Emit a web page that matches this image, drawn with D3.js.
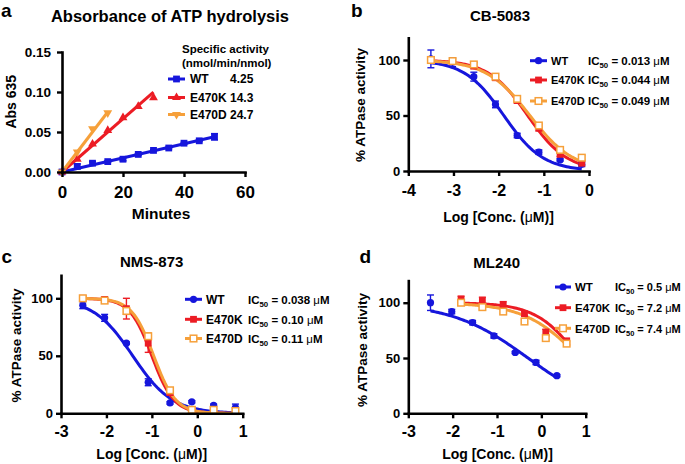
<!DOCTYPE html>
<html>
<head>
<meta charset="utf-8">
<script src="https://cdn.jsdelivr.net/npm/d3@7"></script>
<style>body{margin:0;background:#fff}</style>
</head>
<body>
<div id="chart"></div>
<script>
const FONT = "'Liberation Sans', Arial, Helvetica, sans-serif";
const seriesNames = ["WT", "E470K", "E470D"];
const seriesColors = ["#1616dc", "#ec1c24", "#f6a03a"];

// panel a - absorbance vs minutes
const aWtMin = [0, 5, 10, 15, 20, 25, 30, 35, 40, 45, 50];
const aWtAbs = [0.000, 0.007, 0.011, 0.013, 0.016, 0.022, 0.027, 0.030, 0.036, 0.039, 0.044];
const aWtErr = [0, 0.003, 0.002, 0.001, 0.002, 0.001, 0.001, 0.001, 0.001, 0.001, 0.004];
const aKMin = [0, 5, 10, 15, 20, 25, 30];
const aKAbs = [0.000, 0.016, 0.035, 0.052, 0.068, 0.082, 0.093];
const aDMin = [0, 5, 10, 15];
const aDAbs = [0.000, 0.025, 0.054, 0.074];
const aSlopes = [0.00088, 0.00333, 0.0050];   // fitted lines, Abs per minute
const aActivity = ["4.25", "14.3", "24.7"];

// panel b - CB-5083
const bLogConc = [-3.5, -3.02, -2.55, -2.07, -1.59, -1.11, -0.64, -0.16];
const bWT = [101, 98, 85, 60, 32, 17, 10, 6];
const bWTErr = [8, 4, 4, 3, 2, 2, 1, 2];
const bK = [100, 99, 95, 84, 64, 39, 15, 7];
const bKErr = [3, 2, 3, 2, 3, 3, 2, 2];
const bD = [100, 99, 96, 85, 65, 41, 19, 12];
const bDErr = [2, 2, 2, 2, 2, 2, 2, 2];
const bIC50 = [0.013, 0.044, 0.049];
const bHill = [1.0, 1.0, 0.9];

// panel c - NMS-873
const cLogConc = [-2.52, -2.04, -1.56, -1.08, -0.60, -0.12, 0.36, 0.84];
const cWT = [94, 83, 61, 27, 9, 10, 7, 5];
const cWTErr = [3, 3, 1, 3, 1, 1, 1, 3];
const cK = [100, 99, 91, 61, 18, 3, 3, 2];
const cKErr = [2, 2, 9, 8, 2, 1, 1, 2];
const cD = [100, 98, 89, 67, 20, 3, 3, 2];
const cDErr = [2, 2, 3, 3, 2, 1, 1, 1];
const cIC50 = [0.038, 0.10, 0.11];
const cHill = [1.0, 1.8, 1.8];

// panel d - ML240
const dWTConc = [-2.5, -2.02, -1.55, -1.07, -0.59, -0.12, 0.35];
const dWT = [100, 92, 82, 70, 55, 46, 34];
const dWTErr = [7, 2, 2, 2, 1, 2, 1];
const dMutConc = [-1.81, -1.33, -0.86, -0.38, 0.10, 0.57];
const dK = [103, 102, 98, 90, 73, 65];
const dKErr = [3, 3, 3, 2, 3, 3];
const dD = [100, 96, 92, 83, 68, 63];
const dDErr = [2, 2, 2, 2, 2, 2];
const dIC50 = [0.5, 7.2, 7.4];
const dHill = [0.5, 0.9, 0.7];

const svg = d3.select("#chart").append("svg")
    .attr("width", 685)
    .attr("height", 464)
    .style("font-family", FONT);

svg.append("rect").attr("width", 685).attr("height", 464).attr("fill", "#fff");

function txt(x, y, s, size, anchor, rotate) {
    const t = svg.append("text")
        .attr("x", x).attr("y", y)
        .attr("font-size", size)
        .attr("font-weight", "bold")
        .attr("text-anchor", anchor || "start")
        .attr("fill", "#000")
        .text(s);
    if (rotate) t.attr("transform", `rotate(-90,${x},${y})`);
    return t;
}

function drawAxes(x, y, o) {
    const gx = svg.append("g")
        .attr("transform", `translate(0,${y(0)})`)
        .call(d3.axisBottom(x).tickValues(o.xTicks).tickFormat(o.xFmt || (d => String(d)))
            .tickSize(5).tickPadding(o.xPad).tickSizeOuter(0));
    const gy = svg.append("g")
        .attr("transform", `translate(${x.range()[0]},0)`)
        .call(d3.axisLeft(y).tickValues(o.yTicks).tickFormat(o.yFmt || (d => String(d)))
            .tickSize(5).tickPadding(o.yPad).tickSizeOuter(0));
    [gx, gy].forEach(g => {
        g.select(".domain").attr("stroke", "#000").attr("stroke-width", 2.6).attr("stroke-linecap", "square");
        g.selectAll(".tick line").attr("stroke", "#000").attr("stroke-width", 2.4);
        g.selectAll("text").attr("fill", "#000").attr("font-weight", "bold").attr("font-family", FONT);
    });
    gx.selectAll("text").attr("font-size", o.xFont);
    gy.selectAll("text").attr("font-size", o.yFont);
}

function marker(g, type, cx, cy, color) {
    if (type === "circle") {
        g.append("circle").attr("cx", cx).attr("cy", cy).attr("r", 3.6).attr("fill", color);
    } else if (type === "square") {
        g.append("rect").attr("x", cx - 3.4).attr("y", cy - 3.4).attr("width", 6.8).attr("height", 6.8).attr("fill", color);
    } else if (type === "open") {
        g.append("rect").attr("x", cx - 3.3).attr("y", cy - 3.3).attr("width", 6.6).attr("height", 6.6)
            .attr("fill", "#fff").attr("stroke", color).attr("stroke-width", 1.5);
    } else {
        const rot = type === "tridown" ? 180 : 0;
        g.append("path").attr("d", d3.symbol(d3.symbolTriangle, 34)())
            .attr("transform", `translate(${cx},${cy}) rotate(${rot})`)
            .attr("fill", color);
    }
}

function errorBars(g, x, y, xs, vs, es, color) {
    xs.forEach((xv, i) => {
        if (!es[i]) return;
        const px = x(xv), y1 = y(vs[i] - es[i]), y2 = y(vs[i] + es[i]);
        g.append("line").attr("x1", px).attr("x2", px).attr("y1", y1).attr("y2", y2)
            .attr("stroke", color).attr("stroke-width", 1.4);
        [y1, y2].forEach(yy => g.append("line").attr("x1", px - 3.5).attr("x2", px + 3.5)
            .attr("y1", yy).attr("y2", yy).attr("stroke", color).attr("stroke-width", 1.4));
    });
}

function points(g, x, y, xs, vs, type, color) {
    xs.forEach((xv, i) => marker(g, type, x(xv), y(vs[i]), color));
}

function doseCurve(g, x, y, xs, ic50, hill, color) {
    const lo = d3.min(xs), hi = d3.max(xs);
    const logIc = Math.log10(ic50);
    const pts = d3.range(0, 81).map(k => {
        const xv = lo + (hi - lo) * k / 80;
        return [xv, 100 / (1 + Math.pow(10, (xv - logIc) * hill))];
    });
    g.append("path")
        .attr("d", d3.line().x(d => x(d[0])).y(d => y(d[1]))(pts))
        .attr("fill", "none").attr("stroke", color).attr("stroke-width", 3);
}

function legendRow(cy, x1, x2, type, color, label, lx, size) {
    svg.append("line").attr("x1", x1).attr("x2", x2).attr("y1", cy).attr("y2", cy)
        .attr("stroke", color).attr("stroke-width", 3);
    marker(svg, type, (x1 + x2) / 2, cy, color);
    txt(lx, cy + 4.2, label, size || 12);
}

function ic50Text(x, cy, value, size) {
    const t = txt(x, cy + 4.2, "IC", size);
    t.append("tspan").attr("font-size", size * 0.68).attr("dy", 3).text("50");
    t.append("tspan").attr("dy", -3).text(" = " + value + " ");
    t.append("tspan").attr("font-weight", "normal").text("\u03bc");
    t.append("tspan").text("M");
}

// ---------- panel a ----------
{
    const x = d3.scaleLinear().domain([0, 60]).range([62, 245]);
    const y = d3.scaleLinear().domain([0, 0.15]).range([172, 52]);
    const g = svg.append("g");
    const mins = [aWtMin, aKMin, aDMin];
    const vals = [aWtAbs, aKAbs, aDAbs];
    const types = ["square", "tri", "tridown"];
    [0, 1, 2].forEach(i => {
        const last = d3.max(mins[i]);
        g.append("line")
            .attr("x1", x(0)).attr("y1", y(0))
            .attr("x2", x(last)).attr("y2", y(aSlopes[i] * last))
            .attr("stroke", seriesColors[i]).attr("stroke-width", 3);
    });
    errorBars(g, x, y, aWtMin, aWtAbs, aWtErr, seriesColors[0]);
    [0, 1, 2].forEach(i => points(g, x, y, mins[i], vals[i], types[i], seriesColors[i]));
    drawAxes(x, y, {
        xTicks: [0, 20, 40, 60], yTicks: [0, 0.05, 0.10, 0.15],
        yFmt: d3.format(".2f"), xPad: 9, yPad: 6, xFont: 17, yFont: 13.5
    });
    txt(1, 17, "a", 19);
    txt(170, 21.5, "Absorbance of ATP hydrolysis", 16.5, "middle");
    txt(161, 219, "Minutes", 15.5, "middle");
    txt(16.5, 101.7, "Abs 635", 14, "middle", true);
    txt(182, 52.7, "Specific activity", 11.5);
    txt(182, 66.5, "(nmol/min/nmol)", 11.5);
    const rows = [79, 97.5, 114.5];
    [0, 1, 2].forEach(i => {
        legendRow(rows[i], 168, 185, types[i], seriesColors[i], seriesNames[i], 190, 12);
        txt(230, rows[i] + 4.2, aActivity[i], 12);
    });
}

// ---------- dose-response panels ----------
function dosePanel(p) {
    const x = d3.scaleLinear().domain(p.xDomain).range(p.xRange);
    const y = d3.scaleLinear().domain([0, 120]).range(p.yRange);
    const g = svg.append("g");
    const types = ["circle", "square", "open"];
    [0, 1, 2].forEach(i => doseCurve(g, x, y, p.conc[i], p.ic50[i], p.hill[i], seriesColors[i]));
    [0, 1, 2].forEach(i => errorBars(g, x, y, p.conc[i], p.vals[i], p.errs[i], seriesColors[i]));
    [0, 1, 2].forEach(i => points(g, x, y, p.conc[i], p.vals[i], types[i], seriesColors[i]));
    drawAxes(x, y, {
        xTicks: d3.range(p.xDomain[0], p.xDomain[1] + 1), yTicks: [0, 50, 100],
        xPad: p.xPad, yPad: 3, xFont: 16, yFont: 13
    });
    txt(p.letter[0], p.letter[1], p.letter[2], 19);
    txt(p.title[0], p.title[1], p.title[2], 15, "middle");
    const xl = txt(p.xLabel[0], p.xLabel[1], "Log [Conc. (", 14, "middle");
    xl.append("tspan").attr("font-weight", "normal").text("\u03bc");
    xl.append("tspan").text("M)]");
    txt(p.yLabel[0], p.yLabel[1], "% ATPase activity", 13.5, "middle", true);
    [0, 1, 2].forEach(i => {
        legendRow(p.rows[i], p.leg[0], p.leg[1], types[i], seriesColors[i], seriesNames[i], p.leg[2], p.labelSize);
        ic50Text(p.leg[3], p.rows[i], p.icText[i], p.icSize);
    });
}

dosePanel({
    xDomain: [-4, 0], xRange: [408.3, 589], yRange: [171, 37.8], xPad: 9,
    conc: [bLogConc, bLogConc, bLogConc], vals: [bWT, bK, bD], errs: [bWTErr, bKErr, bDErr],
    ic50: bIC50, hill: bHill, icText: bIC50.map(d3.format(".3f")),
    letter: [351, 17, "b"], title: [500, 20.7, "CB-5083"],
    xLabel: [498.5, 222], yLabel: [365, 105],
    rows: [60.7, 80, 101], leg: [530, 547, 551, 588], labelSize: 11, icSize: 11.5
});

dosePanel({
    xDomain: [-3, 1], xRange: [61, 242.7], yRange: [413.3, 275.3], xPad: 7,
    conc: [cLogConc, cLogConc, cLogConc], vals: [cWT, cK, cD], errs: [cWTErr, cKErr, cDErr],
    ic50: cIC50, hill: cHill, icText: ["0.038", "0.10", "0.11"],
    letter: [1.5, 263.3, "c"], title: [151.7, 266.7, "NMS-873"],
    xLabel: [151.7, 459], yLabel: [21, 345.5],
    rows: [299.3, 319.3, 338.5], leg: [185, 202, 206, 248], labelSize: 12, icSize: 11.5
});

dosePanel({
    xDomain: [-3, 1], xRange: [408.3, 585.7], yRange: [413.3, 280.6], xPad: 7,
    conc: [dWTConc, dMutConc, dMutConc], vals: [dWT, dK, dD], errs: [dWTErr, dKErr, dDErr],
    ic50: dIC50, hill: dHill, icText: ["0.5", "7.2", "7.4"],
    letter: [359.5, 263.3, "d"], title: [496.7, 268.3, "ML240"],
    xLabel: [497.5, 459], yLabel: [366.5, 350],
    rows: [287, 307.7, 328.3], leg: [555, 571, 575, 615], labelSize: 11.5, icSize: 11
});
</script>
</body>
</html>
